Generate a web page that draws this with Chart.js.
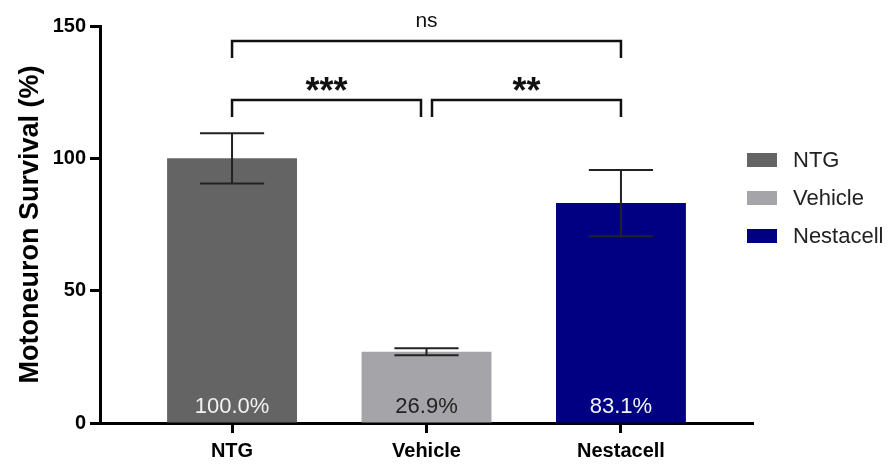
<!DOCTYPE html>
<html>
<head>
<meta charset="utf-8">
<script src="https://cdn.jsdelivr.net/npm/chart.js@4"></script>
<style>
  html, body { margin: 0; padding: 0; background: #fff; }
  #chart { display: block; }
</style>
</head>
<body>
<canvas id="chart" width="888" height="464"></canvas>
<script>
// survival data, one bar per group
const categories = ['NTG', 'Vehicle', 'Nestacell'];
const survival = [100.0, 26.9, 83.1];
const errors = [9.5, 1.3, 12.5];
const barColors = ['#646464', '#a5a5a9', '#020082'];
const labelColors = ['#f2f2f2', '#222222', '#f2f2f2'];
const yTicks = [0, 50, 100, 150];

// significance brackets (x in category positions, level in % units)
const bracketFrom = [1, 2, 1];
const bracketTo = [2, 3, 3];
const bracketLevel = [122, 122, 144.3];
const bracketLabel = ['***', '**', 'ns'];

const FONT = "'Liberation Sans', Arial, Helvetica, sans-serif";
Chart.defaults.font.family = FONT;
Chart.defaults.color = '#000';

const overlay = {
  id: 'overlay',
  afterDatasetsDraw(chart){
    const {ctx} = chart;
    const xs = chart.scales.x, ys = chart.scales.y;
    ctx.save();

    // error bars
    ctx.strokeStyle = '#222';
    ctx.lineWidth = 2;
    survival.forEach((v, i) => {
      const cx = xs.getPixelForValue(i + 1);
      const x0 = xs.getPixelForValue(i + 1 - 0.165), x1 = xs.getPixelForValue(i + 1 + 0.165);
      const yt = ys.getPixelForValue(v + errors[i]), yb = ys.getPixelForValue(v - errors[i]);
      ctx.beginPath();
      ctx.moveTo(cx, yt); ctx.lineTo(cx, yb);
      ctx.moveTo(x0, yt); ctx.lineTo(x1, yt);
      ctx.moveTo(x0, yb); ctx.lineTo(x1, yb);
      ctx.stroke();
    });

    // value labels inside bars
    ctx.font = '22px ' + FONT;
    ctx.textAlign = 'center';
    ctx.textBaseline = 'alphabetic';
    survival.forEach((v, i) => {
      ctx.fillStyle = labelColors[i];
      ctx.fillText(v.toFixed(1) + '%', xs.getPixelForValue(i + 1), ys.getPixelForValue(0) - 10);
    });

    // brackets
    ctx.strokeStyle = '#111';
    ctx.lineWidth = 2.5;
    bracketLevel.forEach((lvl, i) => {
      let xa = xs.getPixelForValue(bracketFrom[i]);
      let xb = xs.getPixelForValue(bracketTo[i]);
      if (bracketLabel[i] !== 'ns') {
        if (bracketTo[i] === 2) xb -= 5.5;
        if (bracketFrom[i] === 2) xa += 5.5;
      }
      const y = ys.getPixelForValue(lvl);
      ctx.beginPath();
      ctx.moveTo(xa, y + 17); ctx.lineTo(xa, y); ctx.lineTo(xb, y); ctx.lineTo(xb, y + 17);
      ctx.stroke();
      ctx.fillStyle = '#111';
      if (bracketLabel[i] === 'ns') {
        ctx.font = '21px ' + FONT;
        ctx.textBaseline = 'middle';
        ctx.fillText(bracketLabel[i], (xa + xb) / 2, y - 20);
      } else {
        ctx.font = 'bold 36px ' + FONT;
        ctx.textBaseline = 'alphabetic';
        ctx.fillText(bracketLabel[i], (xa + xb) / 2, y + 3);
      }
    });

    // legend
    ctx.font = '22px ' + FONT;
    ctx.textAlign = 'left';
    ctx.textBaseline = 'middle';
    categories.forEach((c, i) => {
      const yc = 160 + i * 38;
      ctx.fillStyle = barColors[i];
      ctx.fillRect(747, yc - 7, 30, 14);
      ctx.fillStyle = '#222';
      ctx.fillText(c, 793, yc + 1);
    });
    ctx.restore();
  }
};

new Chart(document.getElementById('chart'), {
  type: 'bar',
  data: {
    datasets: [{
      data: survival.map((v, i) => ({ x: i + 1, y: v })),
      backgroundColor: barColors,
      borderWidth: 0,
      categoryPercentage: 1,
      barPercentage: 0.668
    }]
  },
  options: {
    responsive: false,
    animation: false,
    layout: { padding: { left: 0, top: 26, right: 135, bottom: 0 } },
    plugins: { legend: { display: false }, tooltip: { enabled: false } },
    scales: {
      x: {
        type: 'linear',
        offset: false,
        min: 0.321, max: 3.679,
        afterBuildTicks: s => { s.ticks = categories.map((c, i) => ({ value: i + 1 })); },
        afterFit: s => { s.height = 41; },
        ticks: {
          callback: v => categories[v - 1] || '',
          font: { size: 20, weight: 'bold' }, color: '#000', padding: 6, maxRotation: 0
        },
        grid: { offset: false, drawOnChartArea: false, drawTicks: true, tickLength: 10, tickWidth: 3, tickColor: '#000' },
        border: { display: true, width: 3, color: '#000' }
      },
      y: {
        min: 0, max: 150,
        afterBuildTicks: s => { s.ticks = yTicks.map(v => ({ value: v })); },
        afterFit: s => { s.width = 100; },
        ticks: { font: { size: 20, weight: 'bold' }, color: '#000', padding: 4 },
        grid: { drawOnChartArea: false, drawTicks: true, tickLength: 10, tickWidth: 3, tickColor: '#000' },
        border: { display: true, width: 3, color: '#000' },
        title: {
          display: true, text: 'Motoneuron Survival (%)',
          font: { size: 27, weight: 'bold' }, color: '#000',
          padding: { top: 14, bottom: 0 }
        }
      }
    }
  },
  plugins: [overlay]
});
</script>
</body>
</html>
